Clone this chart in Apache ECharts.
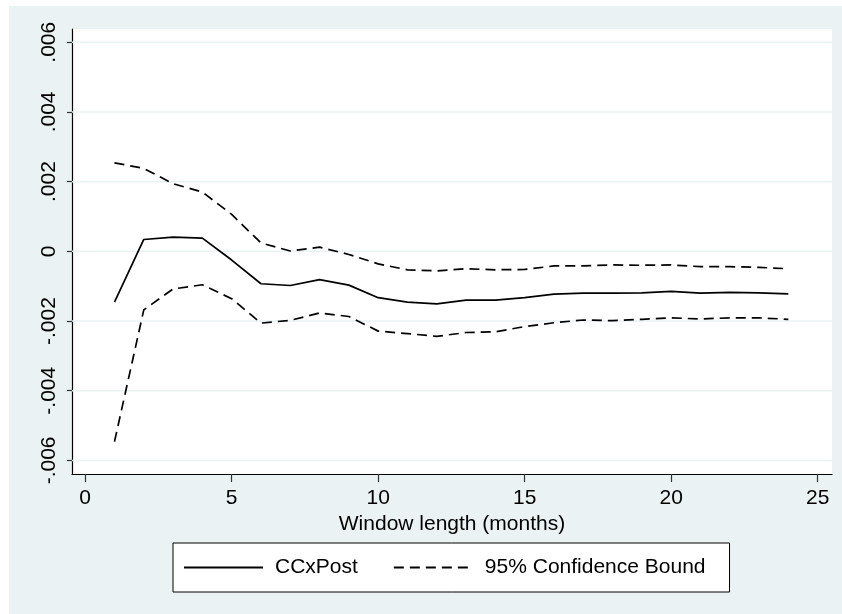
<!DOCTYPE html>
<html>
<head>
<meta charset="utf-8">
<script src="https://cdn.jsdelivr.net/npm/echarts@6/dist/echarts.min.js"></script>
<style>
html,body{margin:0;padding:0;background:#fff;}
#chart{width:842px;height:614px;}
</style>
</head>
<body>
<div id="chart"></div>
<script>
// ---- data ----
var months = [1,2,3,4,5,6,7,8,9,10,11,12,13,14,15,16,17,18,19,20,21,22,23,24];
var ccxPost = [-0.00146,0.00034,0.00041,0.00038,-0.00025,-0.00093,-0.00098,-0.00081,-0.00097,-0.00133,-0.00146,-0.00151,-0.00140,-0.00140,-0.00133,-0.00123,-0.00120,-0.00120,-0.00119,-0.00115,-0.00120,-0.00118,-0.00119,-0.00122];
var upperBound = [0.00254,0.00238,0.00194,0.00170,0.00106,0.00024,0.00001,0.00012,-0.00009,-0.00036,-0.00053,-0.00056,-0.00050,-0.00053,-0.00052,-0.00042,-0.00042,-0.00039,-0.00040,-0.00039,-0.00044,-0.00044,-0.00046,-0.00050];
var lowerBound = [-0.00546,-0.00168,-0.00108,-0.00096,-0.00136,-0.00206,-0.00198,-0.00177,-0.00187,-0.00229,-0.00236,-0.00244,-0.00233,-0.00231,-0.00216,-0.00205,-0.00197,-0.00199,-0.00195,-0.00191,-0.00194,-0.00191,-0.00191,-0.00195];
var xTickValues = [0,5,10,15,20,25];
var yTickValues = [-0.006,-0.004,-0.002,0,0.002,0.004,0.006];
var yTickLabels = ['-.006','-.004','-.002','0','.002','.004','.006'];
var seriesNames = ['CCxPost','95% Confidence Bound'];
var xTitle = 'Window length (months)';
var xRange = [-0.45, 25.49];
var yRange = [-0.00639, 0.00638];

function pairs(xs, ys){ return xs.map(function(x,i){ return [x, ys[i]]; }); }

var FONT = 'Liberation Sans, Arial, sans-serif';
var chart = echarts.init(document.getElementById('chart'), null, {renderer:'canvas'});

var gridSeries = yTickValues.map(function(v){
  return {
    type: 'line', name: '_grid', data: [[xRange[0], v],[xRange[1], v]],
    showSymbol: false, symbol: 'none', silent: true, z: 1,
    lineStyle: {color: '#EAF2F3', width: 1.5, type: 'solid'},
    emphasis: {disabled: true}, tooltip: {show: false}
  };
});

var option = {
  animation: false,
  backgroundColor: '#ffffff',
  graphic: [{
    type: 'rect', z: -100, silent: true,
    shape: {x: 9, y: 6, width: 833, height: 608},
    style: {fill: '#EAF2F3'}
  }],
  grid: {
    left: 72, right: 10, top: 29, bottom: 140,
    show: true, backgroundColor: '#ffffff', borderWidth: 0,
    containLabel: false
  },
  xAxis: {
    type: 'value', min: xRange[0], max: xRange[1],
    name: xTitle, nameLocation: 'middle', nameGap: 37,
    nameTextStyle: {fontFamily: FONT, fontSize: 21, color: '#000'},
    axisLine: {show: true, onZero: false, lineStyle: {color: '#000', width: 1.2}},
    axisTick: {show: true, length: 8, customValues: xTickValues, lineStyle: {color: '#333', width: 1.2}},
    axisLabel: {show: true, customValues: xTickValues, margin: 14, fontFamily: FONT, fontSize: 21, color: '#000'},
    splitLine: {show: false}
  },
  yAxis: {
    type: 'value', min: yRange[0], max: yRange[1],
    axisLine: {show: true, onZero: false, lineStyle: {color: '#000', width: 1.2}},
    axisTick: {show: true, length: 5, customValues: yTickValues, lineStyle: {color: '#333', width: 1.2}},
    axisLabel: {
      show: true, customValues: yTickValues, rotate: 90, margin: 12,
      fontFamily: FONT, fontSize: 21, color: '#000',
      formatter: function(v){
        for (var i=0;i<yTickValues.length;i++){ if (Math.abs(v-yTickValues[i])<1e-9) return yTickLabels[i]; }
        return '';
      }
    },
    splitLine: {show: false}
  },
  legend: {
    left: 173, top: 543,
    data: seriesNames,
    backgroundColor: '#ffffff', borderColor: '#000', borderWidth: 1,
    padding: [14, 24, 14, 10],
    itemWidth: 79, itemHeight: 14, itemGap: 35,
    itemStyle: {opacity: 0},
    textStyle: {fontFamily: FONT, fontSize: 21, color: '#000', padding: [0,0,0,7]}
  },
  series: gridSeries.concat([
    {
      type: 'line', name: seriesNames[0], data: pairs(months, ccxPost),
      showSymbol: false, symbol: 'none', z: 3,
      lineStyle: {color: '#000', width: 1.7, type: 'solid'},
      itemStyle: {color: '#000'}
    },
    {
      type: 'line', name: seriesNames[1], data: pairs(months, upperBound),
      showSymbol: false, symbol: 'none', z: 3,
      lineStyle: {color: '#000', width: 1.7, type: [10,6]},
      itemStyle: {color: '#000'}
    },
    {
      type: 'line', name: seriesNames[1], data: pairs(months, lowerBound),
      showSymbol: false, symbol: 'none', z: 3,
      lineStyle: {color: '#000', width: 1.7, type: [10,6]},
      itemStyle: {color: '#000'}
    }
  ])
};
chart.setOption(option);
</script>
</body>
</html>
